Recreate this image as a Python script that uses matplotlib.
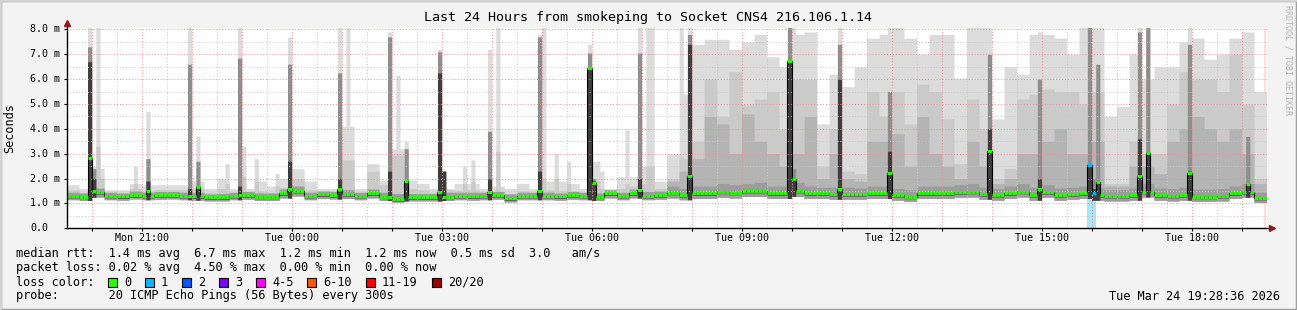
import numpy as np
import matplotlib
matplotlib.use("Agg")
import matplotlib.pyplot as plt
from matplotlib.transforms import blended_transform_factory
from matplotlib.patches import Rectangle
from matplotlib.lines import Line2D

plt.rcParams['font.family'] = ['DejaVu Sans Mono']

W, H = 1297, 310

# 15 minute bins, first one starts Mon 19:30 (values in ms)
bin_med = [1.30, 1.27, 1.45, 1.30, 1.28, 1.33, 1.30, 1.33, 1.33, 1.30,
           1.28, 1.24, 1.24, 1.30, 1.33, 1.27, 1.27, 1.40, 1.50, 1.30,
           1.36, 1.33, 1.37, 1.30, 1.40, 1.27, 1.17, 1.24, 1.24, 1.24,
           1.27, 1.30, 1.28, 1.30, 1.33, 1.20, 1.30, 1.30, 1.30, 1.28,
           1.33, 1.30, 1.27, 1.40, 1.30, 1.40, 1.30, 1.33, 1.43, 1.33,
           1.40, 1.40, 1.47, 1.43, 1.50, 1.50, 1.40, 1.40, 1.50, 1.40,
           1.40, 1.37, 1.37, 1.37, 1.40, 1.40, 1.33, 1.27, 1.40, 1.40,
           1.40, 1.45, 1.47, 1.37, 1.33, 1.40, 1.47, 1.33, 1.45, 1.33,
           1.37, 1.40, 1.33, 1.30, 1.30, 1.33, 1.47, 1.33, 1.30, 1.33,
           1.27, 1.27, 1.30, 1.40, 1.45, 1.22]
bin_lo = [1.15, 1.12, 1.25, 1.15, 1.13, 1.18, 1.15, 1.17, 1.18, 1.15,
          1.13, 1.10, 1.10, 1.15, 1.17, 1.12, 1.12, 1.22, 1.30, 1.15,
          1.20, 1.18, 1.20, 1.15, 1.22, 1.12, 1.05, 1.10, 1.10, 1.10,
          1.12, 1.15, 1.13, 1.15, 1.17, 1.06, 1.15, 1.15, 1.15, 1.13,
          1.17, 1.15, 1.12, 1.22, 1.15, 1.22, 1.15, 1.17, 1.22, 1.15,
          1.20, 1.20, 1.25, 1.22, 1.28, 1.28, 1.20, 1.20, 1.28, 1.20,
          1.20, 1.17, 1.17, 1.17, 1.20, 1.20, 1.13, 1.08, 1.20, 1.20,
          1.20, 1.25, 1.26, 1.17, 1.13, 1.20, 1.26, 1.13, 1.25, 1.13,
          1.17, 1.20, 1.13, 1.10, 1.10, 1.13, 1.26, 1.13, 1.10, 1.13,
          1.08, 1.08, 1.10, 1.20, 1.25, 1.04]
bin_core = [1.45, 1.42, 1.62, 1.45, 1.42, 1.50, 1.45, 1.48, 1.48, 1.45,
            1.45, 1.38, 1.40, 1.45, 1.48, 1.42, 1.42, 1.58, 1.70, 1.45,
            1.50, 1.48, 1.55, 1.45, 1.58, 1.45, 1.40, 1.40, 1.40, 1.40,
            1.45, 1.45, 1.45, 1.45, 1.48, 1.38, 1.45, 1.45, 1.45, 1.42,
            1.48, 1.45, 1.42, 1.55, 1.45, 1.58, 1.48, 1.50, 1.70, 1.60,
            1.70, 1.70, 1.80, 1.75, 1.80, 1.85, 1.70, 1.70, 1.85, 1.70,
            1.65, 1.65, 1.65, 1.62, 1.70, 1.70, 1.60, 1.55, 1.70, 1.70,
            1.70, 1.75, 1.80, 1.65, 1.60, 1.70, 1.80, 1.65, 1.75, 1.62,
            1.65, 1.70, 1.62, 1.55, 1.55, 1.62, 1.80, 1.62, 1.60, 1.65,
            1.58, 1.58, 1.60, 1.70, 1.80, 1.45]
bin_mid = [1.55, 1.45, 2.00, 1.45, 1.45, 1.60, 1.50, 1.55, 1.55, 1.55,
           1.60, 1.45, 1.60, 1.45, 1.45, 1.50, 1.45, 1.65, 2.00, 1.55,
           1.50, 1.50, 2.75, 1.45, 2.30, 1.75, 2.95, 1.60, 1.55, 1.45,
           1.55, 1.50, 1.55, 1.45, 1.50, 1.40, 1.50, 1.45, 1.55, 1.50,
           1.50, 1.45, 1.60, 1.50, 1.60, 1.70, 1.80, 1.60, 2.00, 2.80,
           3.50, 6.00, 4.50, 6.30, 5.00, 5.20, 5.50, 4.00, 6.00, 6.00,
           2.50, 4.00, 2.30, 2.20, 5.50, 4.50, 5.50, 4.20, 5.80, 5.50,
           4.40, 2.60, 5.20, 4.00, 2.00, 2.40, 5.20, 5.40, 5.60, 5.50,
           5.50, 5.00, 5.50, 1.80, 1.80, 3.50, 3.00, 3.00, 5.00, 6.30,
           6.00, 6.00, 5.50, 7.00, 5.00, 2.00]
bin_hi = [1.75, 1.60, 2.40, 1.55, 1.55, 1.80, 1.75, 1.75, 1.75, 1.75,
          1.90, 1.60, 2.00, 1.60, 1.60, 1.90, 1.70, 2.00, 2.40, 1.90,
          1.60, 1.60, 4.10, 1.60, 2.60, 1.94, 3.20, 1.94, 1.80, 1.60,
          1.60, 1.80, 1.80, 1.60, 1.70, 1.60, 1.80, 1.60, 1.90, 1.90,
          1.80, 1.60, 2.30, 1.60, 2.07, 2.07, 2.50, 1.90, 3.00, 5.40,
          7.40, 7.60, 7.60, 7.20, 7.50, 7.80, 6.90, 6.50, 7.80, 7.90,
          4.20, 6.20, 5.70, 6.50, 7.65, 7.80, 8.10, 7.65, 7.00, 7.80,
          7.80, 6.05, 8.10, 8.10, 4.40, 6.50, 6.20, 7.80, 7.80, 7.65,
          7.00, 8.10, 8.10, 4.50, 4.90, 7.00, 6.00, 6.50, 6.50, 7.50,
          7.65, 6.80, 7.00, 7.65, 7.90, 5.50]
# darker inner smoke, only seen from bin 48 on
mid2_first_bin = 48
bin_mid2 = [1.90, 2.30, 2.80, 4.50, 4.20, 3.00, 4.60, 3.50, 3.00, 2.50,
            3.00, 4.50, 2.00, 3.00, 2.00, 1.90, 3.50, 3.50, 3.80, 2.50,
            4.50, 3.00, 2.50, 2.00, 3.50, 2.50, 1.80, 2.00, 3.00, 3.00,
            3.50, 4.00, 3.00, 3.00, 3.50, 1.70, 1.70, 2.50, 2.50, 2.20,
            3.50, 4.00, 4.50, 4.00, 3.50, 4.00, 3.00, 1.80]

# single 5 minute steps with tall smoke: step, median, dark top, gray top, max
spk_step = [5, 6, 19, 29, 31, 41, 53, 65, 77, 81, 89, 90, 101, 113, 125, 126,
            137, 149, 173, 174, 185, 197, 221, 233, 245, 246, 247, 257, 259,
            269, 283]
spk_med = [2.81, 1.50, 1.50, 1.30, 1.67, 1.33, 1.58, 1.58, 1.24, 1.90, 1.47,
           1.27, 1.48, 1.50, 6.45, 1.83, 1.56, 2.11, 6.72, 2.00, 1.58, 2.24,
           3.11, 1.60, 2.55, 1.40, 1.87, 2.11, 3.04, 2.24, 1.78]
spk_dark = [6.70, 2.00, 1.90, 1.60, 1.67, 1.70, 2.70, 2.00, 2.30, 1.90, 6.25,
            2.30, 2.00, 2.30, 6.45, 1.90, 2.00, 7.40, 6.72, 2.00, 6.00, 3.10,
            4.00, 2.00, 2.55, 1.60, 1.87, 3.60, 3.04, 2.30, 1.78]
spk_gray = [7.30, 2.40, 2.80, 6.60, 2.70, 6.85, 6.60, 6.25, 7.70, 3.20, 7.10,
            2.30, 3.90, 7.70, 7.05, 2.00, 7.05, 7.80, 8.10, 2.40, 7.40, 5.50,
            7.00, 6.00, 8.10, 2.00, 6.60, 7.90, 8.10, 7.40, 3.70]
spk_top = [8.10, 2.50, 4.70, 8.10, 3.70, 8.10, 7.70, 8.10, 7.90, 3.50, 7.20,
           2.30, 7.20, 7.80, 7.40, 2.70, 8.10, 8.10, 8.10, 8.10, 8.10, 8.10,
           8.10, 7.90, 8.10, 8.10, 7.00, 8.10, 8.10, 8.10, 5.40]

# single steps with only light smoke: step, mid top, max
col_step = [7, 16, 38, 42, 45, 50, 67, 79, 95, 97, 103, 114, 117, 120, 127,
            134, 139, 140, 147]
col_mid = [3.30, 1.80, 1.80, 2.10, 1.90, 1.70, 2.75, 3.00, 1.80, 1.90, 3.10,
           2.00, 2.00, 1.80, 1.90, 1.80, 2.50, 2.50, 2.90]
col_top = [8.10, 2.50, 2.60, 3.30, 2.80, 2.20, 8.10, 6.15, 2.50, 2.75, 8.10,
           8.10, 3.00, 2.70, 2.70, 3.96, 8.10, 8.10, 8.10]

loss_step = [245, 246]
loss_count = [1, 1]

loss_legend = ['0', '1', '2', '3', '4-5', '6-10', '11-19', '20/20']
loss_colors = ['#26ff00', '#00b8ff', '#0059ff', '#7e00ff', '#ff00ff',
               '#ff5500', '#ff0000', '#a00000']

x_labels = ['Mon 21:00', 'Tue 00:00', 'Tue 03:00', 'Tue 06:00',
            'Tue 09:00', 'Tue 12:00', 'Tue 15:00', 'Tue 18:00']
x_label_hours = [21, 24, 27, 30, 33, 36, 39, 42]
y_labels = ['0.0', '1.0 m', '2.0 m', '3.0 m', '4.0 m', '5.0 m', '6.0 m',
            '7.0 m', '8.0 m']

t0 = 19.5
dt = 5 / 60.0

med = np.repeat(bin_med, 3).astype(float)
lo = np.repeat(bin_lo, 3).astype(float)
core = np.repeat(bin_core, 3).astype(float)
mid = np.repeat(bin_mid, 3).astype(float)
hi = np.repeat(bin_hi, 3).astype(float)
mid2 = lo.copy()
mid2[mid2_first_bin * 3:] = np.repeat(bin_mid2, 3)
dark = lo.copy()
gray = lo.copy()
for s, m, d, g, t in zip(spk_step, spk_med, spk_dark, spk_gray, spk_top):
    med[s] = m
    dark[s] = d
    gray[s] = g
    hi[s] = max(hi[s], t)
for s, m, t in zip(col_step, col_mid, col_top):
    mid[s] = max(mid[s], m)
    hi[s] = max(hi[s], t)

n = len(med)
edges = t0 + np.arange(n + 1) * dt


def ext(a):
    return np.append(a, a[-1])


fig = plt.figure(figsize=(W / 100, H / 100), dpi=100, facecolor='#f3f3f3')

# frame bevel
fig.patches.append(Rectangle((0, 0), 1, 1, transform=fig.transFigure,
                             fill=False, edgecolor='#a0a0a0', lw=2.5))
fig.add_artist(Line2D([0, 0], [0, 1], transform=fig.transFigure, color='#d4d4d4', lw=2))
fig.add_artist(Line2D([0, 1], [1, 1], transform=fig.transFigure, color='#d4d4d4', lw=2))

ax_l, ax_r, ax_t, ax_b = 66.7, 1266.5, 27.7, 228.3
ax = fig.add_axes([ax_l / W, 1 - ax_b / H, (ax_r - ax_l) / W, (ax_b - ax_t) / H])
ax.set_facecolor('white')
ax.set_xlim(19.5, 43.5)
ax.set_ylim(0, 8.07)

# loss background and "now" band
for s, c in zip(loss_step, loss_count):
    ax.axvspan(edges[s], edges[s + 1], color='#a6e4f8', lw=0, zorder=0.5)
ax.axvspan(43.44, 43.5, color='#ffdcdc', lw=0, zorder=0.5)

# smoke
ax.fill_between(edges, ext(lo), ext(hi), step='post', color='#dcdcdc', lw=0, zorder=1)
ax.fill_between(edges, ext(lo), ext(mid), step='post', color='#cacaca', lw=0, zorder=1.1)
ax.fill_between(edges, ext(lo), ext(mid2), step='post', color='#b4b4b4', lw=0, zorder=1.15)
ax.fill_between(edges, ext(lo), ext(gray), step='post', color='#8e8e8e', lw=0, zorder=1.2)
ax.fill_between(edges, ext(lo), ext(core), step='post', color='#9c9c9c', lw=0, zorder=1.3)
ax.fill_between(edges, ext(lo), ext(dark), step='post', color='#3e3e3e', lw=0, zorder=1.4)
ax.fill_between(edges, ext(med) - 0.08, ext(med) + 0.03, step='post',
                color='#606060', lw=0, zorder=1.5)

# grid
dot = (0, (1, 2))
for v in np.arange(0.5, 8.0, 1.0):
    ax.axhline(v, color='#c8c8c8', lw=0.7, ls=dot, zorder=2)
for v in range(1, 9):
    ax.axhline(v, color='#f09090', lw=0.7, ls=dot, zorder=2.1)
for h in np.arange(20.5, 43.5, 1.0):
    ax.axvline(h, color='#c8c8c8', lw=0.7, ls=dot, zorder=2)
for h in range(20, 44):
    ax.axvline(h, color='#f09090', lw=0.7, ls=dot, zorder=2.1)

# median
ax.step(edges, ext(med), where='post', color='black', lw=0.8, zorder=3)
seg_colors = [loss_colors[0]] * n
for s, c in zip(loss_step, loss_count):
    seg_colors[s] = loss_colors[c]
ax.hlines(med, edges[:-1], edges[1:], colors=seg_colors, lw=2.0, zorder=4)

for sp in ['top', 'right', 'left', 'bottom']:
    ax.spines[sp].set_visible(False)
ax.set_xticks(range(20, 44))
ax.set_yticks(range(0, 9))
ax.tick_params(length=2, width=0.8, color='black', labelbottom=False, labelleft=False)

# axis lines with arrows
fig.add_artist(Line2D([ax_l / W, ax_l / W], [1 - ax_b / H, 1 - 24 / H],
                      transform=fig.transFigure, color='black', lw=1))
fig.add_artist(Line2D([ax_l / W, 1270 / W], [1 - ax_b / H, 1 - ax_b / H],
                      transform=fig.transFigure, color='black', lw=1))
fig.add_artist(Line2D([ax_l / W], [1 - 22.5 / H], transform=fig.transFigure,
                      marker='^', color='#8b1a1a', ms=4.5, lw=0))
fig.add_artist(Line2D([1271.5 / W], [1 - ax_b / H], transform=fig.transFigure,
                      marker='>', color='#8b1a1a', ms=4.5, lw=0))

# labels
ty = blended_transform_factory(fig.transFigure, ax.transData)
for v, lab in enumerate(y_labels):
    ax.text(30 / W, v, lab, transform=ty, ha='left', va='center', fontsize=7.2)
tx = blended_transform_factory(ax.transData, fig.transFigure)
for h, lab in zip(x_label_hours, x_labels):
    ax.text(h, 1 - 238 / H, lab, transform=tx, ha='center', va='center', fontsize=7.2)

fig.text(0.5, 1 - 18 / H, 'Last 24 Hours from smokeping to Socket CNS4 216.106.1.14',
         ha='center', va='center', fontsize=9.6)
fig.text(10 / W, 1 - 128 / H, 'Seconds', rotation=90, ha='center', va='center', fontsize=8.6)
fig.text(1288 / W, 1 - 5 / H, 'RRDTOOL / TOBI OETIKER', rotation=-90, ha='center',
         va='top', fontsize=6, color='#b4b4b4')

fs = 8.6
fig.text(16 / W, 1 - 254 / H,
         'median rtt:  1.4 ms avg  6.7 ms max  1.2 ms min  1.2 ms now  0.5 ms sd  3.0   am/s',
         ha='left', va='center', fontsize=fs)
fig.text(16 / W, 1 - 268 / H,
         'packet loss: 0.02 % avg  4.50 % max  0.00 % min  0.00 % now',
         ha='left', va='center', fontsize=fs)
fig.text(16 / W, 1 - 282 / H, 'loss color:', ha='left', va='center', fontsize=fs)
x = 108.0
for lab, col in zip(loss_legend, loss_colors):
    fig.patches.append(Rectangle((x / W, 1 - 286.5 / H), 9 / W, 9 / H,
                                 transform=fig.transFigure, facecolor=col,
                                 edgecolor='black', lw=0.8))
    fig.text((x + 16) / W, 1 - 282 / H, lab, ha='left', va='center', fontsize=fs)
    x += 29.8 + 7.2 * len(lab)
fig.text(16 / W, 1 - 296 / H, 'probe:       20 ICMP Echo Pings (56 Bytes) every 300s',
         ha='left', va='center', fontsize=fs)
fig.text(1280 / W, 1 - 296 / H, 'Tue Mar 24 19:28:36 2026', ha='right', va='center',
         fontsize=fs)

fig.savefig('out.png', dpi=100, facecolor=fig.get_facecolor())
